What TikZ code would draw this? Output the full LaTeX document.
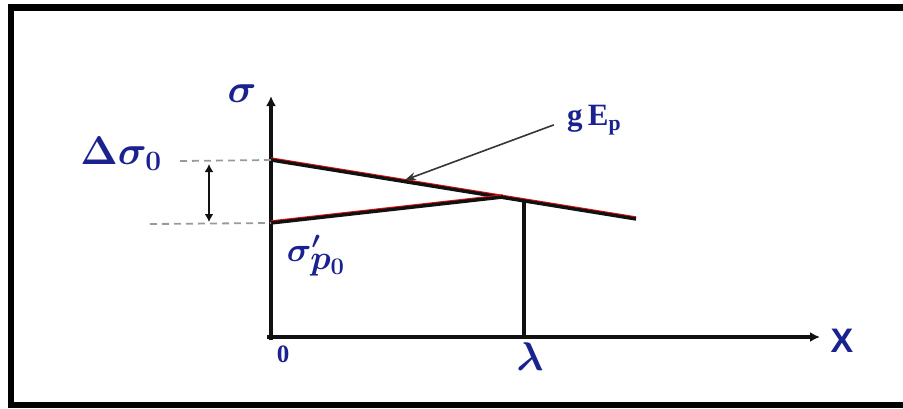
\documentclass[tikz,border=0pt]{standalone}
\usepackage{fix-cm}
\usepackage{amsmath,amssymb,bm}
\usepackage{fontspec}
\setmainfont{Liberation Serif}
\newfontfamily\labelsans{Liberation Sans}
\usepackage{tikz}
\usetikzlibrary{arrows.meta}
\definecolor{ink}{HTML}{111111}
\definecolor{navy}{HTML}{1A2290}
\definecolor{fringe}{HTML}{E01010}
\definecolor{dashgray}{HTML}{9A9A9A}

\begin{document}
\begin{tikzpicture}[
  x=1pt,y=-1pt,
  frame/.style={draw=black,line width=6.5pt},
  axis/.style={draw=ink,line width=3.4pt,-{Latex[length=10pt,width=10pt]}},
  sigline/.style={draw=ink,line width=3.4pt,preaction={draw=fringe,line width=3pt,transform canvas={yshift=1.2pt}}},
  guide/.style={draw=dashgray,line width=1.8pt,dash pattern=on 7pt off 5pt},
  span/.style={draw=ink,line width=2.2pt,{Latex[length=8pt,width=9pt]}-{Latex[length=8pt,width=9pt]}},
  pointer/.style={draw=ink!85,line width=1.6pt,-{Stealth[length=11pt,width=8pt]}},
  lbl/.style={text=navy,inner sep=0pt}
]
\useasboundingbox (0,0) rectangle (903,408);
\draw[frame] (11,7.5) rectangle (912,405);
% axes
\coordinate (O) at (271,337);
\coordinate (ytop) at (271,96);
\coordinate (xend) at (820,337);
\draw[axis] (271,340) -- (ytop);
\draw[axis] (267,337) -- (xend);
% stress lines
\coordinate (s0) at (271,160);
\coordinate (s1) at (636,219);
\coordinate (p0) at (271,223);
\coordinate (p1) at (503,197);
\coordinate (lam) at (524,337);
\coordinate (lamtop) at (524,200);
\coordinate (hit) at (405,180);
\draw[sigline] (s0) -- (s1);
\draw[sigline] (p0) -- (p1);
\draw[draw=ink,line width=3.2pt] (lam) -- (lamtop);
% guides
\coordinate (g0) at (180,161);
\coordinate (g1) at (150,224);
\draw[guide] (g0) -- (s0);
\draw[guide] (g1) -- (p0);
\coordinate (a0) at (209,164);
\coordinate (a1) at (209,222);
\draw[span] (a0) -- (a1);
% labels
\node[lbl,font=\fontsize{40}{44}\selectfont] (sig) at (242,94) {$\bm{\sigma}$};
\node[lbl,font=\fontsize{40}{44}\selectfont] (dsig) at (121,154) {$\bm{\Delta\sigma_0}$};
\node[lbl,font=\fontsize{34}{38}\selectfont] (sigp) at (316,256) {$\bm{\sigma'_{\textstyle p_0}}$};
\node[lbl,font=\fontsize{31}{34}\selectfont\bfseries,anchor=west] (gep) at (567,120) {g\,E$_{\mathbf{p}}$};
\node[lbl,font=\fontsize{25}{28}\selectfont\bfseries] (zero) at (283,354) {0};
\node[lbl,font=\fontsize{40}{44}\selectfont] (lamlbl) at (530,357) {$\bm{\lambda}$};
\node[lbl,font=\fontsize{34}{38}\selectfont\labelsans\bfseries] (xlbl) at (842,341) {X};
\draw[pointer,shorten <=14pt] (gep.west) -- (hit);
\end{tikzpicture}
\end{document}
